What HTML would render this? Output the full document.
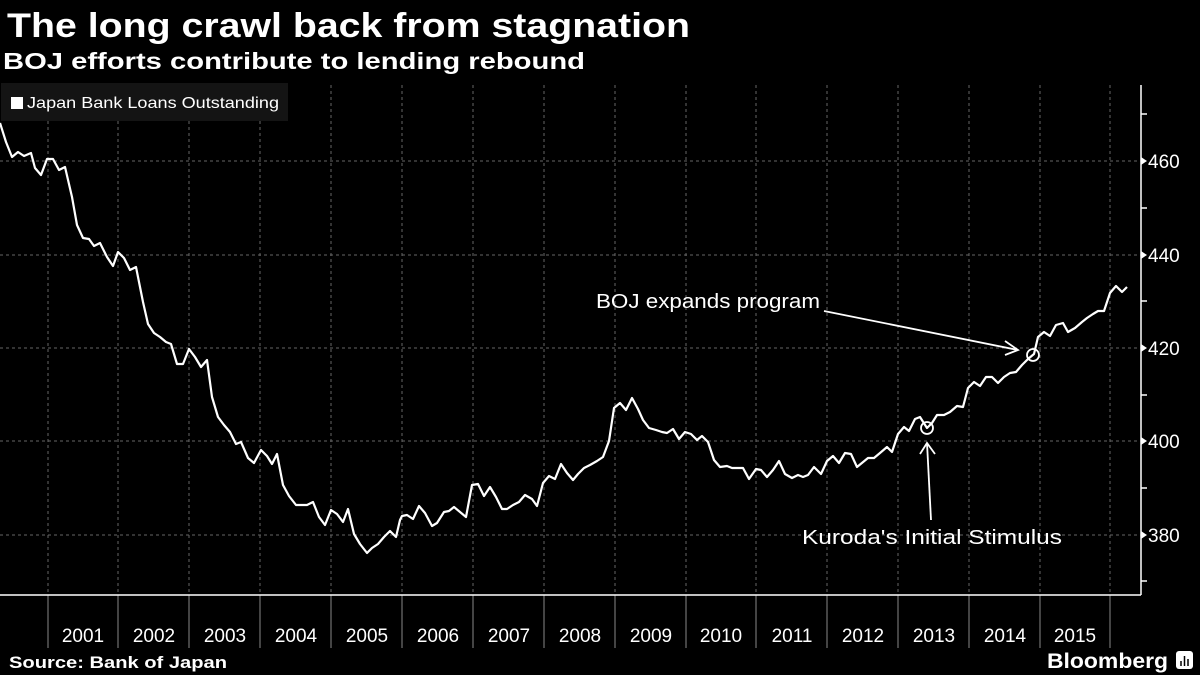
<!DOCTYPE html>
<html><head><meta charset="utf-8"><style>
html,body{margin:0;padding:0;background:#000;}
svg{display:block;font-family:"Liberation Sans",sans-serif;}
</style></head><body>
<svg width="1200" height="675" viewBox="0 0 1200 675" xmlns="http://www.w3.org/2000/svg">
<rect width="1200" height="675" fill="#000"/>
<text x="7" y="37" fill="#fff" font-size="34" font-weight="bold" textLength="683" lengthAdjust="spacingAndGlyphs">The long crawl back from stagnation</text>
<text x="3" y="69" fill="#fff" font-size="23" font-weight="bold" textLength="582" lengthAdjust="spacingAndGlyphs">BOJ efforts contribute to lending rebound</text>
<g stroke="#666" stroke-width="1" stroke-dasharray="3,3">
<line x1="0" y1="161" x2="1141" y2="161"/><line x1="0" y1="255" x2="1141" y2="255"/><line x1="0" y1="348" x2="1141" y2="348"/><line x1="0" y1="441" x2="1141" y2="441"/><line x1="0" y1="535" x2="1141" y2="535"/>
<line x1="48" y1="85" x2="48" y2="595"/><line x1="118" y1="85" x2="118" y2="595"/><line x1="189" y1="85" x2="189" y2="595"/><line x1="260" y1="85" x2="260" y2="595"/><line x1="331" y1="85" x2="331" y2="595"/><line x1="402" y1="85" x2="402" y2="595"/><line x1="473" y1="85" x2="473" y2="595"/><line x1="544" y1="85" x2="544" y2="595"/><line x1="615" y1="85" x2="615" y2="595"/><line x1="686" y1="85" x2="686" y2="595"/><line x1="756" y1="85" x2="756" y2="595"/><line x1="827" y1="85" x2="827" y2="595"/><line x1="898" y1="85" x2="898" y2="595"/><line x1="969" y1="85" x2="969" y2="595"/><line x1="1040" y1="85" x2="1040" y2="595"/><line x1="1110" y1="85" x2="1110" y2="595"/>
</g>
<g stroke="#888" stroke-width="1">
<line x1="48" y1="595" x2="48" y2="648"/><line x1="118" y1="595" x2="118" y2="648"/><line x1="189" y1="595" x2="189" y2="648"/><line x1="260" y1="595" x2="260" y2="648"/><line x1="331" y1="595" x2="331" y2="648"/><line x1="402" y1="595" x2="402" y2="648"/><line x1="473" y1="595" x2="473" y2="648"/><line x1="544" y1="595" x2="544" y2="648"/><line x1="615" y1="595" x2="615" y2="648"/><line x1="686" y1="595" x2="686" y2="648"/><line x1="756" y1="595" x2="756" y2="648"/><line x1="827" y1="595" x2="827" y2="648"/><line x1="898" y1="595" x2="898" y2="648"/><line x1="969" y1="595" x2="969" y2="648"/><line x1="1040" y1="595" x2="1040" y2="648"/><line x1="1110" y1="595" x2="1110" y2="648"/>
</g>
<g stroke="#fff" stroke-width="1.5">
<line x1="0" y1="595" x2="1141" y2="595"/><line x1="1141" y1="85" x2="1141" y2="595"/>
<line x1="1141" y1="114" x2="1147" y2="114"/><line x1="1141" y1="208" x2="1147" y2="208"/><line x1="1141" y1="301" x2="1147" y2="301"/><line x1="1141" y1="395" x2="1147" y2="395"/><line x1="1141" y1="488" x2="1147" y2="488"/><line x1="1141" y1="581" x2="1147" y2="581"/>
</g>
<g fill="#fff">
<polygon points="1141,157 1147,161 1141,165"/><polygon points="1141,251 1147,255 1141,259"/><polygon points="1141,344 1147,348 1141,352"/><polygon points="1141,437 1147,441 1141,445"/><polygon points="1141,531 1147,535 1141,539"/>
</g>
<g fill="#fff" font-size="19">
<text x="1148" y="168">460</text><text x="1148" y="262">440</text><text x="1148" y="355">420</text><text x="1148" y="448">400</text><text x="1148" y="542">380</text>
</g>
<g fill="#fff" font-size="19" text-anchor="middle">
<text x="83" y="642">2001</text><text x="154" y="642">2002</text><text x="225" y="642">2003</text><text x="296" y="642">2004</text><text x="367" y="642">2005</text><text x="438" y="642">2006</text><text x="509" y="642">2007</text><text x="580" y="642">2008</text><text x="651" y="642">2009</text><text x="721" y="642">2010</text><text x="792" y="642">2011</text><text x="863" y="642">2012</text><text x="934" y="642">2013</text><text x="1005" y="642">2014</text><text x="1075" y="642">2015</text>
</g>
<rect x="1" y="83" width="287" height="38" fill="#141414"/>
<rect x="11" y="97" width="12" height="12" fill="#fff"/>
<text x="27" y="108" fill="#fff" font-size="16" textLength="252" lengthAdjust="spacingAndGlyphs">Japan Bank Loans Outstanding</text>
<polyline fill="none" stroke="#fff" stroke-width="2.2" stroke-linejoin="round" points="0,123 6,142 12,157 18,152 24,156 31,153 35,168 41,175 47,159 53,159 59,170 65,167 72,197 77,225 83,238 89,239 94,246 100,243 107,257 113,266 118,252 124,258 130,270 136,267 143,302 148,324 154,333 160,337 166,342 171,344 177,364 183,364 189,349 195,357 201,367 207,360 212,397 218,417 224,425 230,432 236,444 241,442 248,458 254,463 261,450 267,456 272,464 277,454 283,485 289,496 296,505 307,505 313,502 319,517 325,525 331,510 337,514 343,522 348,509 354,534 360,544 367,553 372,548 378,544 384,537 390,531 396,537 400,520 402,516 407,515 413,519 419,506 425,513 432,526 437,523 444,512 449,511 454,507 466,517 472,485 478,484 484,496 490,487 496,497 502,509 507,509 513,505 519,502 525,495 532,499 537,506 543,483 549,476 555,479 561,464 567,473 573,480 578,474 584,468 590,465 597,461 603,457 609,441 614,408 620,403 626,410 632,398 638,409 643,420 649,428 656,430 662,432 667,433 673,429 679,439 685,432 691,434 697,440 702,436 708,442 714,460 720,467 727,466 732,468 743,468 749,479 756,469 761,470 767,477 773,470 779,461 785,474 792,478 798,475 803,477 808,475 814,467 821,474 827,461 833,456 839,463 845,453 851,454 857,467 868,458 874,458 880,453 887,447 892,452 898,434 904,427 909,431 915,419 920,417 927,428 932,423 937,415 944,415 950,412 957,406 963,407 968,388 974,382 980,386 986,377 992,377 998,383 1004,377 1010,373 1016,372 1022,365 1028,359 1034,354 1038,337 1044,332 1050,336 1056,325 1063,323 1068,332 1075,328 1082,322 1087,318 1093,314 1098,311 1104,311 1110,293 1116,286 1122,292 1127,287"/>
<g fill="none" stroke="#fff" stroke-width="1.8">
<circle cx="927" cy="428" r="6"/><circle cx="1033" cy="355" r="6"/>
<line x1="931" y1="520" x2="927" y2="443"/><polyline points="920,454 927,443 935,454"/>
<line x1="824" y1="311" x2="1018" y2="350"/><polyline points="1005,341 1018,350 1005,355"/>
</g>
<text x="596" y="308" fill="#fff" font-size="20" textLength="224" lengthAdjust="spacingAndGlyphs">BOJ expands program</text>
<text x="802" y="544" fill="#fff" font-size="20" textLength="260" lengthAdjust="spacingAndGlyphs">Kuroda's Initial Stimulus</text>
<text x="9" y="668" fill="#fff" font-size="17" font-weight="bold" textLength="218" lengthAdjust="spacingAndGlyphs">Source: Bank of Japan</text>
<text x="1047" y="668" fill="#fff" font-size="21" font-weight="bold" textLength="121" lengthAdjust="spacingAndGlyphs">Bloomberg</text>
<rect x="1176" y="651" width="17" height="18" rx="3" fill="#fff"/>
<g stroke="#000" stroke-width="1.5"><line x1="1181" y1="666" x2="1181" y2="661"/><line x1="1184.5" y1="666" x2="1184.5" y2="656"/><line x1="1188" y1="666" x2="1188" y2="659"/></g>
</svg>
</body></html>
